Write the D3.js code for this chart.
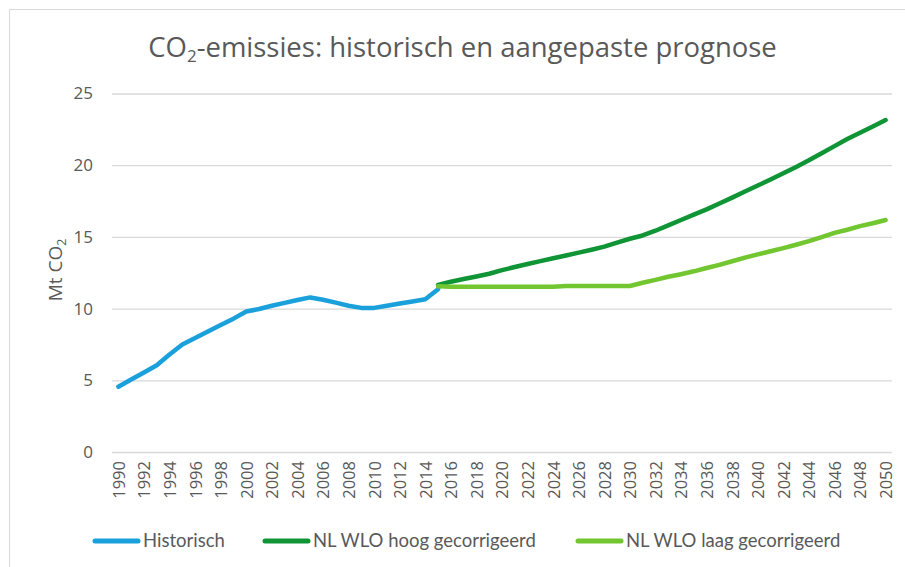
<!DOCTYPE html>
<html><head><meta charset="utf-8">
<script src="https://cdn.jsdelivr.net/npm/d3@7"></script>
<style>body{margin:0;background:#fff}</style>
</head><body><svg id="c" width="905" height="567"></svg>
<script>
const years = [1990,1991,1992,1993,1994,1995,1996,1997,1998,1999,2000,2001,2002,2003,2004,2005,2006,2007,2008,2009,2010,2011,2012,2013,2014,2015,2016,2017,2018,2019,2020,2021,2022,2023,2024,2025,2026,2027,2028,2029,2030,2031,2032,2033,2034,2035,2036,2037,2038,2039,2040,2041,2042,2043,2044,2045,2046,2047,2048,2049,2050];
const tickYears = [1990,1992,1994,1996,1998,2000,2002,2004,2006,2008,2010,2012,2014,2016,2018,2020,2022,2024,2026,2028,2030,2032,2034,2036,2038,2040,2042,2044,2046,2048,2050];
const yTicks = [0,5,10,15,20,25];

const historischYears = [1990,1991,1992,1993,1994,1995,1996,1997,1998,1999,2000,2001,2002,2003,2004,2005,2006,2007,2008,2009,2010,2011,2012,2013,2014,2015];
const historisch = [4.55,5.05,5.55,6.05,6.8,7.5,7.95,8.4,8.85,9.3,9.8,9.97,10.2,10.4,10.6,10.78,10.62,10.42,10.2,10.05,10.05,10.2,10.35,10.5,10.65,11.35];

const prognoseYears = [2015,2016,2017,2018,2019,2020,2021,2022,2023,2024,2025,2026,2027,2028,2029,2030,2031,2032,2033,2034,2035,2036,2037,2038,2039,2040,2041,2042,2043,2044,2045,2046,2047,2048,2049,2050];
const wloHoog = [11.65,11.87,12.06,12.24,12.43,12.68,12.9,13.11,13.31,13.51,13.7,13.9,14.1,14.32,14.6,14.87,15.1,15.43,15.8,16.18,16.55,16.92,17.33,17.74,18.16,18.58,19.0,19.44,19.88,20.34,20.83,21.33,21.83,22.27,22.7,23.15];
const wloLaag = [11.55,11.53,11.52,11.52,11.52,11.52,11.52,11.52,11.52,11.53,11.57,11.58,11.58,11.58,11.58,11.58,11.8,12.0,12.22,12.4,12.6,12.83,13.05,13.3,13.55,13.78,14.0,14.22,14.45,14.7,14.98,15.28,15.5,15.75,15.95,16.18];

const seriesNames = ["Historisch","NL WLO hoog gecorrigeerd","NL WLO laag gecorrigeerd"];
const seriesColors = ["#1aa0db","#0f9535","#72c62f"];

const series = [
  {name: seriesNames[0], color: seriesColors[0], pts: historischYears.map((y,i)=>({x:y, v:historisch[i]}))},
  {name: seriesNames[1], color: seriesColors[1], pts: prognoseYears.map((y,i)=>({x:y, v:wloHoog[i]}))},
  {name: seriesNames[2], color: seriesColors[2], pts: prognoseYears.map((y,i)=>({x:y, v:wloLaag[i]}))}
];

const svg = d3.select("#c");
const textColor = "#595959";
const gridColor = "#d9d9d9";

// chart border
svg.append("rect").attr("x",9.5).attr("y",9.5).attr("width",905).attr("height",567)
  .attr("fill","#fff").attr("stroke",gridColor).attr("stroke-width",1);

const x = d3.scalePoint().domain(years).range([112, 892]).padding(0.5);
const y = d3.scaleLinear().domain([0,25]).range([452, 93.5]);

// gridlines + y axis
const yAxis = d3.axisLeft(y).tickValues(yTicks).tickSize(-(892-112)).tickPadding(19);
const gy = svg.append("g").attr("transform","translate(112,0)").call(yAxis);
gy.select(".domain").remove();
gy.selectAll(".tick line").attr("stroke",gridColor).attr("stroke-width",1.3);
gy.selectAll(".tick text").attr("fill",textColor).attr("font-family","'Open Sans'").attr("font-size",17);

// x axis labels
const xAxis = d3.axisBottom(x).tickValues(tickYears).tickSize(0).tickPadding(0);
const gx = svg.append("g").attr("transform","translate(0,452)").call(xAxis);
gx.select(".domain").remove();
gx.selectAll(".tick text")
  .attr("fill",textColor).attr("font-family","'Open Sans'").attr("font-size",16.5)
  .attr("text-anchor","end")
  .attr("transform","rotate(-90)")
  .attr("x",-9).attr("y",0).attr("dy","0.36em");

// lines
const line = d3.line().x(d=>x(d.x)).y(d=>y(d.v));
svg.append("g").selectAll("path").data(series).join("path")
  .attr("d", d=>line(d.pts))
  .attr("fill","none").attr("stroke",d=>d.color).attr("stroke-width",4.5)
  .attr("stroke-linejoin","round").attr("stroke-linecap","round");

// title
const title = svg.append("text").attr("x",462.5).attr("y",57).attr("text-anchor","middle")
  .attr("fill",textColor).attr("font-family","'Open Sans'").attr("font-size",24);
title.append("tspan").text("CO");
title.append("tspan").attr("font-size","0.62em").attr("dy",5).text("2");
title.append("tspan").attr("dy",-5).text("-emissies: historisch en aangepaste prognose");
const tw = title.node().getComputedTextLength();
title.attr("font-size", 24*629/tw);

// y axis title
const yt = svg.append("text").attr("transform","translate(62,270) rotate(-90)")
  .attr("text-anchor","middle").attr("fill",textColor)
  .attr("font-family","'Open Sans'").attr("font-size",19);
yt.append("tspan").text("Mt CO");
yt.append("tspan").attr("font-size","0.65em").attr("dy",4).text("2");

// legend
const legendX = [93, 263, 576];
const lg = svg.append("g").selectAll("g").data(series).join("g")
  .attr("transform",(d,i)=>`translate(${legendX[i]},541)`);
lg.append("line").attr("x1",2).attr("x2",45).attr("y1",0).attr("y2",0)
  .attr("stroke",d=>d.color).attr("stroke-width",5).attr("stroke-linecap","round");
lg.append("text").attr("x",50).attr("y",0).attr("dy","0.35em")
  .attr("fill",textColor).attr("font-family","Lato").attr("font-size",18.5)
  .text(d=>d.name);
</script>
</body></html>
